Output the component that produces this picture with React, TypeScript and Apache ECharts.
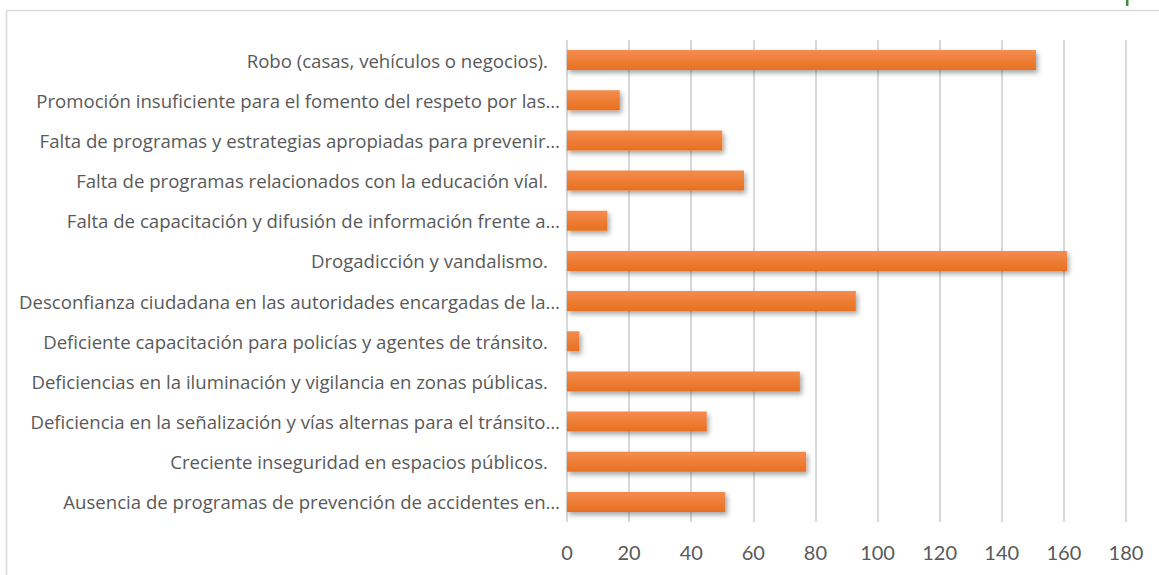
import React, { useEffect, useRef } from "react";
import * as echarts from "echarts";

const categories = [
  "Robo (casas, vehículos o negocios).",
  "Promoción insuficiente para el fomento del respeto por las…",
  "Falta de programas y estrategias apropiadas para prevenir…",
  "Falta de programas relacionados con la educación víal.",
  "Falta de capacitación y difusión de información frente a…",
  "Drogadicción y vandalismo.",
  "Desconfianza ciudadana en las autoridades encargadas de la…",
  "Deficiente capacitación para policías y agentes de tránsito.",
  "Deficiencias en la iluminación y vigilancia en zonas públicas.",
  "Deficiencia en la señalización y vías alternas para el tránsito…",
  "Creciente inseguridad en espacios públicos.",
  "Ausencia de programas de prevención de accidentes en…",
];

const values = [151, 17, 50, 57, 13, 161, 93, 4, 75, 45, 77, 51];

const xTicks = { min: 0, max: 180, interval: 20 };

export default function App() {
  const ref = useRef<HTMLDivElement>(null);
  useEffect(() => {
    if (!ref.current) return;
    const chart = echarts.init(ref.current, null, { renderer: "svg" });
    const labelBase = { color: "#595959", fontFamily: "Open Sans", fontSize: 18.6 };
    chart.setOption({
      animation: false,
      backgroundColor: "#ffffff",
      graphic: [
        {
          type: "line",
          shape: { x1: 6.5, y1: 10.5, x2: 1159, y2: 10.5 },
          style: { stroke: "#d9d9d9", lineWidth: 1.5 },
          silent: true,
        },
        {
          type: "line",
          shape: { x1: 6.5, y1: 10.5, x2: 6.5, y2: 575 },
          style: { stroke: "#d9d9d9", lineWidth: 1.5 },
          silent: true,
        },
        {
          type: "rect",
          shape: { x: 1126, y: 0, width: 2.5, height: 6 },
          style: { fill: "#3c8c3c" },
          silent: true,
        },
      ],
      grid: { left: 567, right: 33, top: 40, bottom: 53, containLabel: false },
      xAxis: {
        type: "value",
        min: xTicks.min,
        max: xTicks.max,
        interval: xTicks.interval,
        axisLine: { show: false },
        axisTick: { show: false },
        splitLine: { show: true, lineStyle: { color: "#d9d9d9", width: 2 } },
        axisLabel: {
          color: "#595959",
          fontFamily: "Lato",
          fontSize: 20,
          margin: 20,
        },
      },
      yAxis: {
        type: "category",
        data: categories,
        inverse: true,
        axisLine: { show: false },
        axisTick: { show: false },
        axisLabel: {
          ...labelBase,
          margin: 7,
          formatter: (v: string) => (v.endsWith("…") ? `{t|${v}}` : `{f|${v}}`),
          rich: {
            t: { ...labelBase },
            f: { ...labelBase, padding: [0, 12, 0, 0] },
          },
        },
      },
      series: [
        {
          type: "bar",
          data: values,
          barWidth: 20,
          itemStyle: {
            color: new echarts.graphic.LinearGradient(0, 0, 0, 1, [
              { offset: 0, color: "#f48c4f" },
              { offset: 1, color: "#e8701f" },
            ]),
            shadowColor: "rgba(0,0,0,0.35)",
            shadowBlur: 5,
            shadowOffsetX: 2,
            shadowOffsetY: 3,
          },
        },
      ],
    });
    return () => chart.dispose();
  }, []);
  return <div ref={ref} style={{ width: 1159, height: 575, position: "absolute", left: 0, top: 0 }} />;
}
